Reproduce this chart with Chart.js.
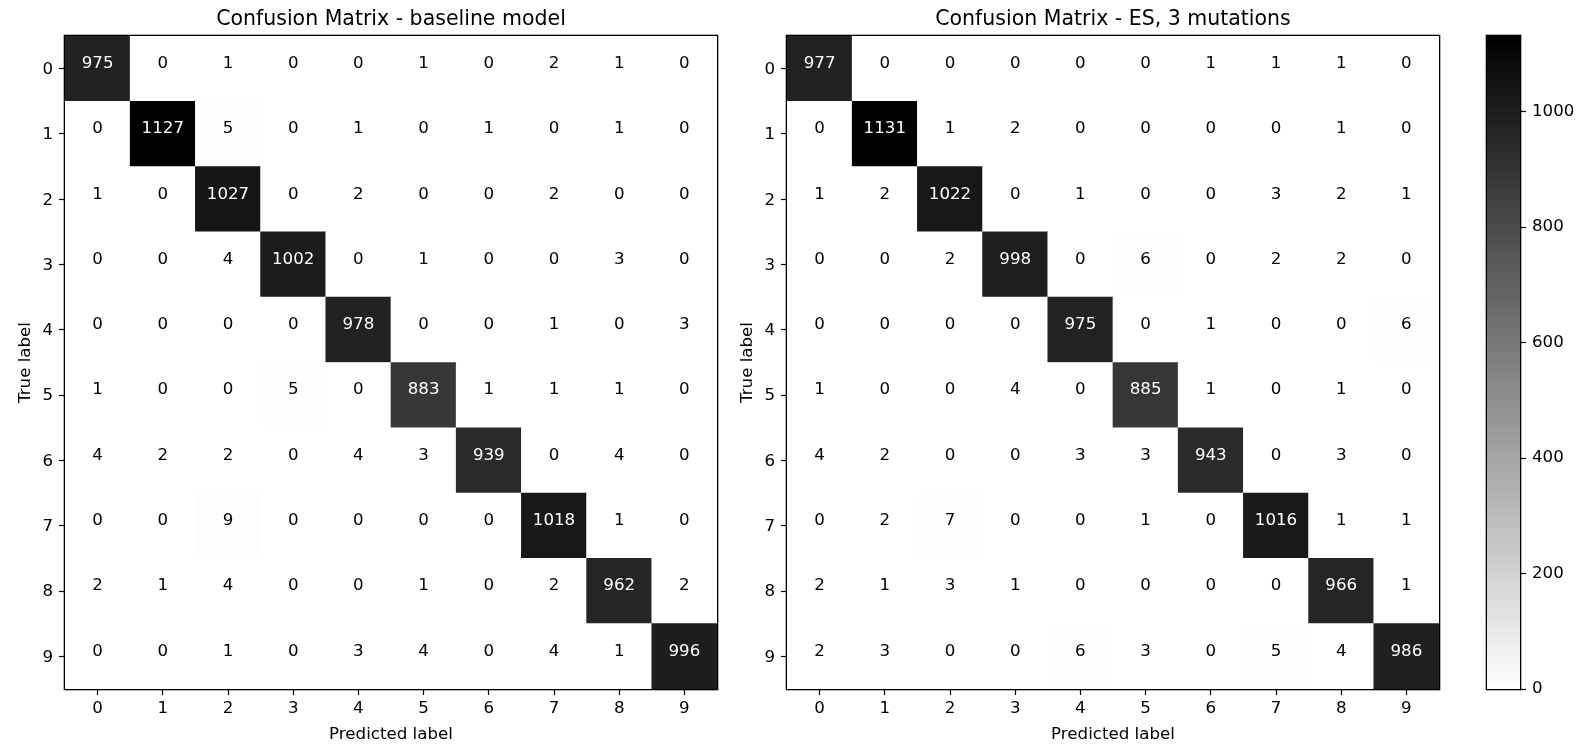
<!DOCTYPE html>
<html>
<head>
<meta charset="utf-8">
<title>Confusion matrices</title>
<script src="https://cdn.jsdelivr.net/npm/chart.js@4.4.1/dist/chart.umd.min.js"></script>
<style>
  html, body { margin: 0; padding: 0; background: #fff; }
  body { position: relative; width: 1577px; height: 745px; overflow: hidden; }
  canvas { position: absolute; top: 0; }
</style>
</head>
<body>
<canvas id="baseline" width="782" height="745" style="left:0px"></canvas>
<canvas id="es" width="782" height="745" style="left:722px"></canvas>
<canvas id="colorbar" width="137" height="745" style="left:1440px"></canvas>
<script>
const classLabels = ['0', '1', '2', '3', '4', '5', '6', '7', '8', '9'];

// rows = true label, columns = predicted label
const baselineRows = [
  [975, 0, 1, 0, 0, 1, 0, 2, 1, 0],
  [0, 1127, 5, 0, 1, 0, 1, 0, 1, 0],
  [1, 0, 1027, 0, 2, 0, 0, 2, 0, 0],
  [0, 0, 4, 1002, 0, 1, 0, 0, 3, 0],
  [0, 0, 0, 0, 978, 0, 0, 1, 0, 3],
  [1, 0, 0, 5, 0, 883, 1, 1, 1, 0],
  [4, 2, 2, 0, 4, 3, 939, 0, 4, 0],
  [0, 0, 9, 0, 0, 0, 0, 1018, 1, 0],
  [2, 1, 4, 0, 0, 1, 0, 2, 962, 2],
  [0, 0, 1, 0, 3, 4, 0, 4, 1, 996],
];

const esRows = [
  [977, 0, 0, 0, 0, 0, 1, 1, 1, 0],
  [0, 1131, 1, 2, 0, 0, 0, 0, 1, 0],
  [1, 2, 1022, 0, 1, 0, 0, 3, 2, 1],
  [0, 0, 2, 998, 0, 6, 0, 2, 2, 0],
  [0, 0, 0, 0, 975, 0, 1, 0, 0, 6],
  [1, 0, 0, 4, 0, 885, 1, 0, 1, 0],
  [4, 2, 0, 0, 3, 3, 943, 0, 3, 0],
  [0, 2, 7, 0, 0, 1, 0, 1016, 1, 1],
  [2, 1, 3, 1, 0, 0, 0, 0, 966, 1],
  [2, 3, 0, 0, 6, 3, 0, 5, 4, 986],
];

const colorbarTicks = [0, 200, 400, 600, 800, 1000];

Chart.defaults.font.family = '"DejaVu Sans", sans-serif';
Chart.defaults.font.size = 16.67;
Chart.defaults.color = '#000';

// gray_r colormap, 256 levels like matplotlib
const grayFor = (v, vmax) => {
  const idx = Math.min(255, Math.floor(v / vmax * 256));
  const g = Math.round(255 * (1 - idx / 255));
  return `rgb(${g},${g},${g})`;
};

const frame = {
  id: 'frame',
  afterDraw(chart) {
    const {ctx, chartArea: a} = chart;
    ctx.save();
    ctx.strokeStyle = '#000';
    ctx.lineWidth = 1.3;
    ctx.strokeRect(a.left - 0.65, a.top - 0.65, a.right - a.left + 1.3, a.bottom - a.top + 1.3);
    ctx.restore();
  }
};

const cellText = {
  id: 'cellText',
  afterDatasetsDraw(chart) {
    const {ctx} = chart;
    const pts = chart.data.datasets[0].data;
    ctx.save();
    ctx.font = '16.67px "DejaVu Sans"';
    ctx.textAlign = 'center';
    ctx.textBaseline = 'middle';
    chart.getDatasetMeta(0).data.forEach((bar, i) => {
      const p = pts[i];
      ctx.fillStyle = p.v < p.thresh ? '#000' : '#fff';
      ctx.fillText(String(p.v), bar.x, (bar.y + bar.base) / 2 - 5);
    });
    ctx.restore();
  }
};

const tickGrid = {drawOnChartArea: false, drawTicks: true, tickLength: 6, tickColor: '#000', tickWidth: 1.2};

function makeMatrixChart(id, title, rows) {
  const flat = rows.flat();
  const vmax = Math.max(...flat);
  const thresh = (vmax + Math.min(...flat)) / 2;
  const points = [];
  rows.forEach((row, r) => row.forEach((v, c) => {
    points.push({x: classLabels[c], y: [r - 0.5, r + 0.5], v, thresh});
  }));

  return new Chart(document.getElementById(id), {
    type: 'bar',
    data: {
      labels: classLabels,
      datasets: [{
        xAxisID: 'x',
        yAxisID: 'y',
        data: points,
        backgroundColor: ctx => ctx.raw ? grayFor(ctx.raw.v, vmax) : '#fff',
        borderWidth: 0,
        barPercentage: 1,
        categoryPercentage: 1
      }]
    },
    options: {
      responsive: false,
      devicePixelRatio: 1,
      animation: false,
      layout: {padding: 0},
      plugins: {
        legend: {display: false},
        tooltip: {enabled: false},
        title: {
          display: true,
          text: title,
          color: '#000',
          font: {size: 20.5, weight: 'normal'},
          padding: {top: 7.6, bottom: 3.8}
        }
      },
      scales: {
        x: {
          type: 'category',
          offset: true,
          grid: {...tickGrid, offset: false},
          border: {display: false},
          ticks: {padding: 4, autoSkip: false, maxRotation: 0},
          title: {display: true, text: 'Predicted label', padding: {top: 0, bottom: 0.8}},
          afterFit: s => { s.height = 56; }
        },
        y: {
          type: 'linear',
          reverse: true,
          min: -0.5,
          max: 9.5,
          grid: tickGrid,
          border: {display: false},
          afterBuildTicks: s => { s.ticks = classLabels.map((_, i) => ({value: i})); },
          ticks: {padding: 6, labelOffset: 1, callback: v => classLabels[v]},
          title: {display: true, text: 'True label', padding: {top: 16, bottom: 0}},
          afterFit: s => { s.width = 65; }
        },
        // empty right-hand strip so the title centres over the matrix
        yPad: {
          type: 'linear',
          position: 'right',
          grid: {display: false},
          ticks: {display: false},
          border: {display: false},
          afterFit: s => { s.width = 65; }
        }
      }
    },
    plugins: [cellText, frame]
  });
}

makeMatrixChart('baseline', 'Confusion Matrix - baseline model', baselineRows);
makeMatrixChart('es', 'Confusion Matrix - ES, 3 mutations', esRows);

// colorbar belongs to the last image drawn (ES matrix)
const colorbarMax = Math.max(...esRows.flat());

new Chart(document.getElementById('colorbar'), {
  type: 'bar',
  data: {
    labels: [''],
    datasets: [{
      data: [[0, colorbarMax]],
      backgroundColor: ctx => {
        const chart = ctx.chart;
        if (!chart.chartArea) return '#888';
        const y = chart.scales.y;
        const g = chart.ctx.createLinearGradient(0, y.getPixelForValue(0), 0, y.getPixelForValue(colorbarMax));
        g.addColorStop(0, '#ffffff');
        g.addColorStop(1, '#000000');
        return g;
      },
      borderWidth: 0,
      barPercentage: 1,
      categoryPercentage: 1
    }]
  },
  options: {
    responsive: false,
    devicePixelRatio: 1,
    animation: false,
    layout: {padding: {left: 47, right: 0, top: 36, bottom: 56}},
    plugins: {legend: {display: false}, tooltip: {enabled: false}},
    scales: {
      x: {display: false},
      y: {
        position: 'right',
        min: 0,
        max: colorbarMax,
        grid: tickGrid,
        border: {display: false},
        afterBuildTicks: s => { s.ticks = colorbarTicks.map(v => ({value: v})); },
        ticks: {padding: 6, callback: v => String(v)},
        afterFit: s => { s.width = 57; }
      }
    }
  },
  plugins: [frame]
});
</script>
</body>
</html>
